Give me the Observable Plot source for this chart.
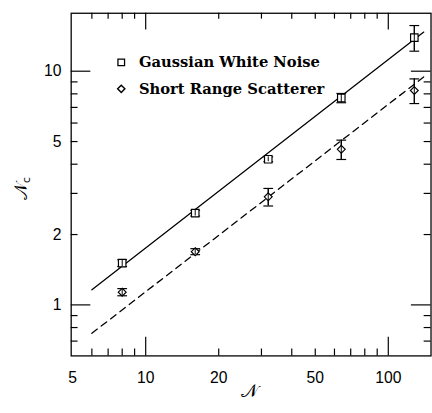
<!DOCTYPE html>
<html>
<head>
<meta charset="utf-8">
<script src="https://cdn.jsdelivr.net/npm/d3@7"></script>
<script src="https://cdn.jsdelivr.net/npm/@observablehq/plot@0.6"></script>
<style>
  html, body { margin: 0; padding: 0; background: #fff; overflow: hidden; width: 432px; height: 413px; }
  #chart svg { display: block; }
</style>
</head>
<body>
<div id="chart"></div>
<script>
// ---- data ----
const sizes = [8, 16, 32, 64, 128];
const gaussianWhiteNoise = [1.51, 2.47, 4.20, 7.68, 13.93];
const gaussianErr = [0.05, 0.07, 0.10, 0.35, 1.75];
const shortRangeScatterer = [1.134, 1.69, 2.90, 4.63, 8.27];
const scattererErr = [0.04, 0.05, 0.25, 0.44, 1.0];
const fitX = [6, 140];
const fitGaussian = [1.16, 14.7];
const fitScatterer = [0.756, 9.45];
const seriesNames = ["Gaussian White Noise", "Short Range Scatterer"];
const xTickLabels = [5, 10, 20, 50, 100];
const xMajorTicks = [10, 100];
const xMinorTicks = [6, 7, 8, 9, 20, 30, 40, 50, 60, 70, 80, 90];
const yTickLabels = [1, 2, 5, 10];
const yMajorTicks = [1, 10];
const yMinorTicks = [0.7, 0.8, 0.9, 2, 3, 4, 5, 6, 7, 8, 9];
const xDomain = [4.93, 150];
const yDomain = [0.605, 17.7];

const gw = sizes.map((x, i) => ({x, y: gaussianWhiteNoise[i], lo: gaussianWhiteNoise[i] - gaussianErr[i], hi: gaussianWhiteNoise[i] + gaussianErr[i]}));
const sr = sizes.map((x, i) => ({x, y: shortRangeScatterer[i], lo: shortRangeScatterer[i] - scattererErr[i], hi: shortRangeScatterer[i] + scattererErr[i]}));
const fitG = fitX.map((x, i) => ({x, y: fitGaussian[i]}));
const fitS = fitX.map((x, i) => ({x, y: fitScatterer[i]}));

const cap = {draw(ctx, size) { const w = Math.sqrt(size) / 2; ctx.moveTo(-w, 0); ctx.lineTo(w, 0); }};

const W = 440, H = 413, ML = 72, MR = 1.5, MT = 13, MB = 51;
const tickFont = "'Liberation Sans', Arial, sans-serif";
const legendFont = "'DejaVu Serif', serif";

// the same scales as the plot, used to find where the inward ticks end
const xs = Plot.scale({x: {type: "log", domain: xDomain, range: [ML, W - MR]}});
const ys = Plot.scale({y: {type: "log", domain: yDomain, range: [H - MB, MT]}});
const yBottom = yDomain[0], yTop = yDomain[1], xLeft = xDomain[0], xRight = xDomain[1];
const yUp = len => ys.invert(H - MB - len);
const yDown = len => ys.invert(MT + len);
const xIn = len => xs.invert(ML + len);
const xInR = len => xs.invert(W - MR - len);

function errMarks(data, symbol, r) {
  return [
    Plot.ruleX(data, {x: "x", y1: "lo", y2: "hi", stroke: "black", strokeWidth: 1.2}),
    Plot.dot(data, {x: "x", y: "lo", symbol: cap, r: 5.6, stroke: "black", strokeWidth: 1.2}),
    Plot.dot(data, {x: "x", y: "hi", symbol: cap, r: 5.6, stroke: "black", strokeWidth: 1.2}),
    Plot.dot(data, {x: "x", y: "y", symbol, r, stroke: "black", fill: "white", strokeWidth: 1.2}),
    Plot.ruleX(data, {x: "x", y1: "lo", y2: "hi", stroke: "black", strokeWidth: 1})
  ];
}
const tk = {stroke: "black", strokeWidth: 1.2};

const chart = Plot.plot({
  width: W,
  height: H,
  marginLeft: ML,
  marginRight: MR,
  marginTop: MT,
  marginBottom: MB,
  style: {background: "white", color: "black"},
  x: {type: "log", domain: xDomain, axis: null},
  y: {type: "log", domain: yDomain, axis: null},
  marks: [
    Plot.frame({stroke: "black", strokeWidth: 1.3}),
    // inward ticks
    Plot.ruleX(xMinorTicks, {x: d => d, y1: () => yBottom, y2: () => yUp(7), ...tk}),
    Plot.ruleX(xMajorTicks, {x: d => d, y1: () => yBottom, y2: () => yUp(19), ...tk}),
    Plot.ruleX(xMinorTicks, {x: d => d, y1: () => yTop, y2: () => yDown(6), ...tk}),
    Plot.ruleX(xMajorTicks, {x: d => d, y1: () => yTop, y2: () => yDown(17), ...tk}),
    Plot.ruleY(yMinorTicks, {y: d => d, x1: () => xLeft, x2: () => xIn(7), ...tk}),
    Plot.ruleY(yMajorTicks, {y: d => d, x1: () => xLeft, x2: () => xIn(20), ...tk}),
    Plot.ruleY(yMinorTicks, {y: d => d, x1: () => xRight, x2: () => xInR(7), ...tk}),
    Plot.ruleY(yMajorTicks, {y: d => d, x1: () => xRight, x2: () => xInR(20), ...tk}),
    // tick labels
    Plot.text(xTickLabels, {x: d => d, frameAnchor: "bottom", dy: 22, text: d => String(d), fontSize: 16, fontFamily: tickFont, lineAnchor: "middle"}),
    Plot.text(yTickLabels, {y: d => d, frameAnchor: "left", dx: -10, text: d => String(d), textAnchor: "end", lineAnchor: "middle", fontSize: 16, fontFamily: tickFont}),
    // fits
    Plot.line(fitG, {x: "x", y: "y", stroke: "black", strokeWidth: 1.3}),
    Plot.line(fitS, {x: "x", y: "y", stroke: "black", strokeWidth: 1.3, strokeDasharray: "7,5"}),
    // data
    ...errMarks(gw, "square", 4.3),
    ...errMarks(sr, "diamond2", 3.6),
    // legend
    Plot.dot([seriesNames[0]], {frameAnchor: "top-left", dx: 51, dy: 50, symbol: "square", r: 3.8, stroke: "black", fill: "none", strokeWidth: 1.3}),
    Plot.dot([seriesNames[1]], {frameAnchor: "top-left", dx: 51, dy: 77, symbol: "diamond2", r: 3.3, stroke: "black", fill: "none", strokeWidth: 1.5}),
    Plot.text([seriesNames[0]], {frameAnchor: "top-left", dx: 69, dy: 50, text: d => d, textAnchor: "start", lineAnchor: "middle", fontSize: 15, fontWeight: "bold", fontFamily: legendFont, letterSpacing: 1}),
    Plot.text([seriesNames[1]], {frameAnchor: "top-left", dx: 69, dy: 77, text: d => d, textAnchor: "start", lineAnchor: "middle", fontSize: 15, fontWeight: "bold", fontFamily: legendFont}),
    // axis label x
    Plot.text(["\u{1D4A9}"], {frameAnchor: "bottom", dx: -2, dy: 42, text: d => d, fontSize: 18, fontFamily: "'DejaVu Sans', serif", fill: "black"})
  ]
});

// y axis label with subscript
const svg = d3.select(chart);
const yl = svg.append("text")
  .attr("transform", "translate(27,192) rotate(-90)")
  .attr("text-anchor", "middle")
  .attr("font-family", "'DejaVu Sans', serif")
  .attr("font-size", 18)
  .attr("fill", "black");
yl.append("tspan").text("\u{1D4A9}");
yl.append("tspan").attr("dy", 4).attr("font-size", 11).text("c");

document.getElementById("chart").appendChild(chart);
</script>
</body>
</html>
